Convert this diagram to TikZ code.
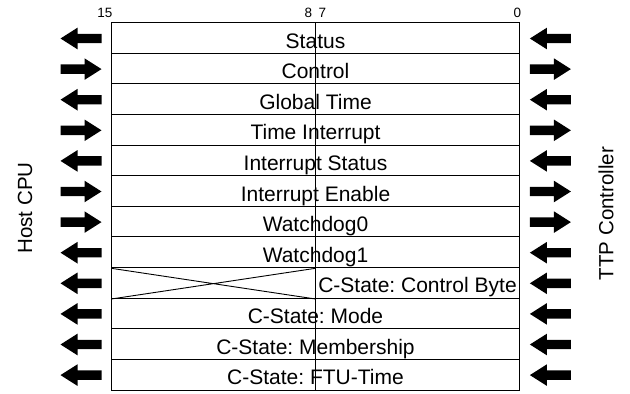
\documentclass[tikz,border=0pt]{standalone}
\usepackage{fontspec}
\setmainfont{Liberation Sans}
\frenchspacing
\begin{document}
\begin{tikzpicture}[x=1pt,y=-1pt,
  rowtext/.style={anchor=base, font=\fontsize{21}{24}\selectfont, inner sep=0pt},
  bitnum/.style={anchor=base, font=\fontsize{13.5}{15}\selectfont, inner sep=0pt},
  side/.style={font=\fontsize{20.5}{24}\selectfont, rotate=90, inner sep=0pt},
  frame/.style={draw=black, line width=1pt},
  pics/fatarrow/.style={code={
    \fill[black] (-20.5,-4.7) -- (3.5,-4.7) -- (3.5,-10.8) -- (20.5,0)
      -- (3.5,10.8) -- (3.5,4.7) -- (-20.5,4.7) -- cycle;}}
]
\useasboundingbox (0,0) rectangle (630,394);

% register frame
\coordinate (tl) at (111.3,22.7);
\coordinate (br) at (519.5,390);
\coordinate (midtop) at (315.5,22.7);
\coordinate (midbot) at (315.5,390);

% rows: label / arrow direction (1 = right, -1 = left) / label x
\foreach \lab/\dir/\tx [count=\i from 0] in {
  Status/-1/315.5, Control/1/315.5, Global Time/-1/315.5,
  Time Interrupt/1/315.5, Interrupt Status/-1/315.5,
  Interrupt Enable/1/315.5, Watchdog0/1/315.5, Watchdog1/-1/315.5,
  C-State: Control Byte/-1/417.5, C-State: Mode/-1/315.5,
  C-State: Membership/-1/315.5, C-State: FTU-Time/-1/315.5}
{
  \pgfmathsetmacro\rtop{22.7+30.6*\i}
  \pgfmathsetmacro\rmid{\rtop+15.8}
  \pgfmathsetmacro\rbase{\rtop+25.3}
  \node[rowtext] (row\i) at (\tx,\rbase) {\lab};
  \pic[xscale=\dir] (hostarrow\i) at (81,\rmid) {fatarrow};
  \pic[xscale=\dir] (ttparrow\i) at (550.4,\rmid) {fatarrow};
  \ifnum\i>0
    \draw[frame] (111.3,\rtop) -- (519.5,\rtop);
  \fi
}

\draw[frame] (tl) rectangle (br);
\draw[frame] (midtop) -- (midbot);

% unused upper byte of the control-byte register
\coordinate (xa) at (111.3,268.3);
\coordinate (xb) at (315.5,299);
\coordinate (xc) at (111.3,299);
\coordinate (xd) at (315.5,268.3);
\draw[line width=0.9pt] (xa) -- (xb) (xc) -- (xd);

% bit numbers
\node[bitnum, anchor=base east] (b15) at (112.5,17.5) {15};
\node[bitnum] (b8) at (308.5,17.5) {8};
\node[bitnum] (b7) at (322.5,17.5) {7};
\node[bitnum] (b0) at (517.5,17.5) {0};

% sides
\node[side] (host) at (25,208) {Host CPU};
\node[side] (ttp) at (606,213.5) {TTP Controller};
\end{tikzpicture}
\end{document}
